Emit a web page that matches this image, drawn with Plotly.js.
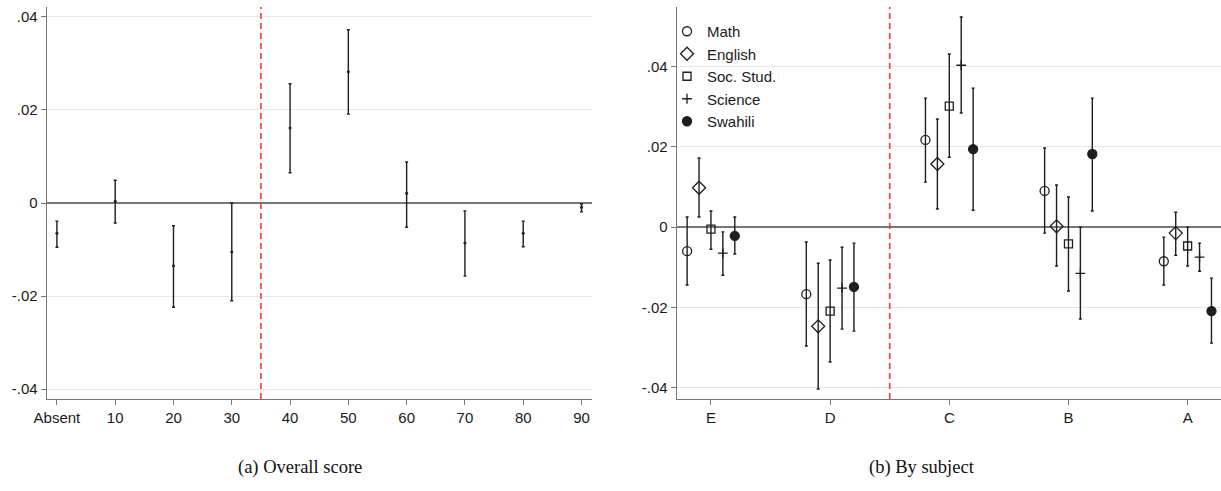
<!DOCTYPE html>
<html>
<head>
<meta charset="utf-8">
<script src="https://cdn.plot.ly/plotly-3.0.1.min.js"></script>
<style>html,body{margin:0;padding:0;background:#fff;}#chart{width:1221px;height:491px;}</style>
</head>
<body>
<div id="chart"></div>
<script>
// ---- Panel (a): overall score ----
const scoreBins = ['Absent','10','20','30','40','50','60','70','80','90'];
const overallCoef = [-0.0065, 0.0004, -0.0135, -0.0105, 0.0161, 0.0282, 0.0021, -0.0086, -0.0065, -0.0009];
const overallLo   = [-0.0095, -0.0043, -0.0224, -0.0210, 0.0065, 0.0191, -0.0052, -0.0157, -0.0094, -0.0019];
const overallHi   = [-0.0039, 0.0049, -0.0049, 0.0000, 0.0256, 0.0372, 0.0088, -0.0017, -0.0039, -0.0002];

// ---- Panel (b): by subject ----
const grades = ['E','D','C','B','A'];
const subjects = ['Math','English','Soc. Stud.','Science','Swahili'];
const mathCoef = [-0.0060, -0.0167, 0.0217, 0.0090, -0.0085];
const mathLo   = [-0.0144, -0.0296, 0.0112, -0.0015, -0.0144];
const mathHi   = [0.0025, -0.0037, 0.0321, 0.0197, -0.0025];
const englishCoef = [0.0098, -0.0247, 0.0157, 0.0002, -0.0015];
const englishLo   = [0.0025, -0.0403, 0.0045, -0.0097, -0.0070];
const englishHi   = [0.0172, -0.0090, 0.0269, 0.0105, 0.0037];
const socCoef = [-0.0005, -0.0209, 0.0301, -0.0042, -0.0047];
const socLo   = [-0.0055, -0.0336, 0.0174, -0.0159, -0.0097];
const socHi   = [0.0040, -0.0082, 0.0431, 0.0075, 0.0000];
const sciCoef = [-0.0065, -0.0152, 0.0403, -0.0115, -0.0075];
const sciLo   = [-0.0120, -0.0254, 0.0284, -0.0229, -0.0110];
const sciHi   = [-0.0012, -0.0050, 0.0523, 0.0000, -0.0040];
const swaCoef = [-0.0022, -0.0149, 0.0194, 0.0182, -0.0209];
const swaLo   = [-0.0067, -0.0259, 0.0042, 0.0040, -0.0289];
const swaHi   = [0.0025, -0.0040, 0.0346, 0.0321, -0.0127];

const yTickVals = [-0.04, -0.02, 0, 0.02, 0.04];
const yTickText = ['-.04', '-.02', '0', '.02', '.04'];

const ink = '#1e1e1e';
const barColor = '#1e1e1e';

const errs = (c, lo, hi) => ({
  type: 'data', symmetric: false,
  array: c.map((v, i) => hi[i] - v),
  arrayminus: c.map((v, i) => v - lo[i]),
  color: barColor, thickness: 1.4, width: 1.5
});

const traces = [];
traces.push({
  type: 'scatter', mode: 'markers', x: scoreBins, y: overallCoef,
  xaxis: 'x', yaxis: 'y', showlegend: false,
  marker: {size: 3, color: ink},
  error_y: errs(overallCoef, overallLo, overallHi),
  hoverinfo: 'x+y'
});

const subjSeries = [
  {c: mathCoef, lo: mathLo, hi: mathHi, sym: 'circle-open', size: 9},
  {c: englishCoef, lo: englishLo, hi: englishHi, sym: 'diamond-open', size: 10},
  {c: socCoef, lo: socLo, hi: socHi, sym: 'square-open', size: 8},
  {c: sciCoef, lo: sciLo, hi: sciHi, sym: 'cross-thin-open', size: 7},
  {c: swaCoef, lo: swaLo, hi: swaHi, sym: 'circle', size: 9}
];
const step = 0.1;
subjSeries.forEach((s, k) => {
  traces.push({
    type: 'scatter', mode: 'markers',
    x: grades.map((g, i) => i + (k - 2) * step), y: s.c,
    xaxis: 'x2', yaxis: 'y2', name: subjects[k], showlegend: true,
    marker: {symbol: s.sym, size: s.size, color: ink, line: {color: ink, width: 1.3}},
    error_y: errs(s.c, s.lo, s.hi)
  });
});

const axisFont = {family: 'Liberation Sans, Arial, sans-serif', size: 15, color: '#1a1a1a'};
const yDomain = [(491 - 399) / 491, (491 - 7) / 491];
const commonY = {
  tickmode: 'array', tickvals: yTickVals, ticktext: yTickText,
  ticks: 'outside', ticklen: 5, tickcolor: '#777', tickwidth: 1,
  showline: true, linecolor: '#777', linewidth: 1.3,
  showgrid: true, gridcolor: '#e6e6e6', gridwidth: 1,
  zeroline: true, zerolinecolor: '#777', zerolinewidth: 1.3,
  tickfont: axisFont, domain: yDomain, fixedrange: true
};
const commonX = {
  ticks: 'outside', ticklen: 5, tickcolor: '#777', tickwidth: 1,
  showline: true, linecolor: '#777', linewidth: 1.3,
  showgrid: false, zeroline: false, tickfont: axisFont, fixedrange: true
};

const layout = {
  width: 1221, height: 491,
  margin: {l: 0, r: 0, t: 0, b: 0},
  paper_bgcolor: '#fff', plot_bgcolor: '#fff',
  showlegend: true,
  xaxis: Object.assign({}, commonX, {
    type: 'category', domain: [47 / 1221, 592 / 1221], range: [-0.17, 9.18], anchor: 'y'
  }),
  yaxis: Object.assign({}, commonY, {range: [-0.0421, 0.0421], anchor: 'x'}),
  xaxis2: Object.assign({}, commonX, {
    domain: [677 / 1221, 1], range: [-0.285, 4.28], anchor: 'y2',
    tickmode: 'array', tickvals: grades.map((g, i) => i), ticktext: grades
  }),
  yaxis2: Object.assign({}, commonY, {range: [-0.0428, 0.0548], anchor: 'x2'}),
  legend: {
    x: 667 / 1221, y: (491 - 15) / 491, xanchor: 'left', yanchor: 'top',
    bgcolor: 'rgba(0,0,0,0)', borderwidth: 0,
    font: {family: 'Liberation Sans, Arial, sans-serif', size: 15, color: '#1a1a1a'},
    tracegroupgap: 0, itemwidth: 30
  },
  shapes: [
    {type: 'line', xref: 'x', yref: 'y domain', x0: 3.5, x1: 3.5, y0: 0, y1: 1,
     line: {color: '#ee3b3b', width: 1.6, dash: '6px,4px'}},
    {type: 'line', xref: 'x2', yref: 'y2 domain', x0: 1.5, x1: 1.5, y0: 0, y1: 1,
     line: {color: '#ee3b3b', width: 1.6, dash: '6px,4px'}},
    {type: 'rect', xref: 'paper', yref: 'y2', layer: 'between',
     x0: 678 / 1221, x1: 790 / 1221, y0: 0.037, y1: 0.043,
     fillcolor: '#fff', line: {width: 0}}
  ],
  annotations: [
    {text: '(a) Overall score', xref: 'paper', yref: 'paper', x: 300 / 1221, y: (491 - 467) / 491,
     xanchor: 'center', yanchor: 'middle', showarrow: false,
     font: {family: 'Liberation Serif, Times New Roman, serif', size: 18.5, color: '#111'}},
    {text: '(b) By subject', xref: 'paper', yref: 'paper', x: 922 / 1221, y: (491 - 467) / 491,
     xanchor: 'center', yanchor: 'middle', showarrow: false,
     font: {family: 'Liberation Serif, Times New Roman, serif', size: 18.5, color: '#111'}}
  ]
};

Plotly.newPlot('chart', traces, layout, {staticPlot: true, displayModeBar: false});
</script>
</body>
</html>
